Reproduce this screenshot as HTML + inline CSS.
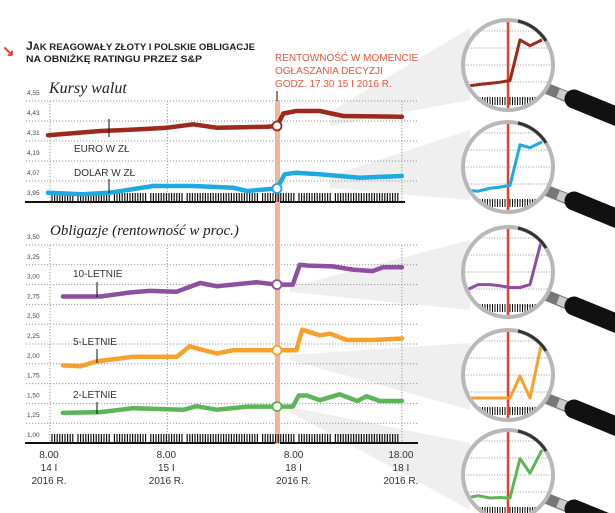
<!DOCTYPE html>
<html><head><meta charset="utf-8"><style>
body{margin:0;background:#fff}
svg{display:block;font-family:"Liberation Sans",sans-serif}
</style></head><body>
<svg id="chart" width="615" height="513" viewBox="0 0 615 513" xmlns="http://www.w3.org/2000/svg">
<g id="wedges" fill="#efefef"></g>
<g id="grid"></g>
<rect x="275" y="100" width="5" height="344" fill="#f4b39b"/>
<line x1="277" y1="91" x2="277" y2="101" stroke="#111" stroke-width="1"/>
<g id="rugs"></g>
<g id="series"></g>
<g id="mags"></g>

<text x="2" y="56" font-size="15" fill="#d9412b" font-weight="bold">↘</text>
<text x="26" y="50" font-size="12" font-weight="bold" fill="#222" textLength="229" lengthAdjust="spacingAndGlyphs">J<tspan font-size="9.5">AK REAGOWAŁY ZŁOTY I POLSKIE OBLIGACJE</tspan></text>
<text x="26" y="62" font-size="9.5" font-weight="bold" fill="#222" textLength="176" lengthAdjust="spacingAndGlyphs">NA OBNIŻKĘ RATINGU PRZEZ S&amp;P</text>
<g font-size="10" fill="#e25b3f">
<text x="275" y="61">RENTOWNOŚĆ W MOMENCIE</text>
<text x="275" y="74">OGŁASZANIA DECYZJI</text>
<text x="275" y="87">GODZ. 17.30 15 I 2016 R.</text>
</g>
<text x="49" y="93" font-size="16" font-style="italic" font-family="Liberation Serif,serif" fill="#222">Kursy walut</text>
<text x="50" y="235" font-size="15" font-style="italic" font-family="Liberation Serif,serif" fill="#222">Obligazje (rentowność w proc.)</text>
<g font-size="10" fill="#333">
<text x="74" y="152">EURO W ZŁ</text><line x1="109" y1="119" x2="109" y2="137" stroke="#111"/>
<text x="74" y="176">DOLAR W ZŁ</text><line x1="109" y1="179" x2="109" y2="193" stroke="#111"/>
<text x="73" y="277">10-LETNIE</text><line x1="97" y1="282" x2="97" y2="297" stroke="#111"/>
<text x="73" y="345">5-LETNIE</text><line x1="97" y1="349" x2="97" y2="363" stroke="#111"/>
<text x="73" y="398">2-LETNIE</text><line x1="97" y1="402" x2="97" y2="414" stroke="#111"/>
</g>
<g id="xlabels" font-size="10" fill="#333" text-anchor="middle"></g>
</svg>
<script>
const NS='http://www.w3.org/2000/svg';
const topTicks=['4,55','4,43','4,31','4,19','4,07','3,95'];
const topTickVals=[4.55,4.43,4.31,4.19,4.07,3.95];
const botTicks=['3,50','3,25','3,00','2,75','2,50','2,25','2,00','1,75','1,50','1,25','1,00'];
const botTickVals=[3.5,3.25,3.0,2.75,2.5,2.25,2.0,1.75,1.5,1.25,1.0];
const xLabelT=[0,1,2,3];
const xLabels=[['8.00','14 I','2016 R.'],['8.00','15 I','2016 R.'],['8.00','18 I','2016 R.'],['18.00','18 I','2016 R.']];
const eventT=1.935;
const euroT=[-0.017,0.43,0.77,1.0,1.22,1.42,1.85,1.935,1.99,2.1,2.3,2.5,3.0];
const euroV=[4.345,4.37,4.38,4.39,4.41,4.39,4.395,4.40,4.475,4.49,4.49,4.46,4.455];
const usdT=[-0.017,0.28,0.51,0.88,1.22,1.56,1.68,1.935,2.0,2.1,2.3,2.64,3.0];
const usdV=[4.0,3.99,4.0,4.04,4.04,4.03,4.01,4.025,4.11,4.12,4.11,4.09,4.10];
const y10T=[0.11,0.43,0.68,0.85,1.08,1.28,1.42,1.76,1.935,2.07,2.13,2.2,2.41,2.58,2.75,2.84,3.0];
const y10V=[2.85,2.85,2.90,2.92,2.91,3.02,2.98,3.03,3.0,3.0,3.25,3.24,3.23,3.19,3.17,3.22,3.22];
const y5T=[0.11,0.26,0.40,0.71,1.08,1.19,1.42,1.56,1.935,2.1,2.15,2.30,2.39,2.53,2.75,3.0];
const y5V=[1.98,1.97,2.03,2.09,2.09,2.22,2.13,2.17,2.17,2.17,2.43,2.36,2.38,2.30,2.30,2.32];
const y2T=[0.11,0.43,0.71,1.14,1.25,1.42,1.68,1.935,2.07,2.12,2.19,2.30,2.47,2.62,2.70,2.81,3.0];
const y2V=[1.38,1.39,1.44,1.42,1.465,1.42,1.46,1.46,1.46,1.60,1.60,1.54,1.615,1.53,1.59,1.53,1.53];
const miniEuro=[0.15,0.18,0.2,0.22,0.25,0.95,0.85,0.95];
const miniUsd=[0.12,0.1,0.15,0.17,0.2,0.9,0.85,0.95];
const mini10=[0.2,0.3,0.3,0.28,0.25,0.25,0.3,1.1];
const mini5=[0.12,0.12,0.12,0.12,0.12,0.5,0.12,1.1];
const mini2=[0.12,0.16,0.12,0.13,0.12,0.8,0.55,0.95];

const x=t=>50+t*117.3;
const yTop=v=>201-(v-3.95)/0.12*20;
const yBot=v=>443-(v-1)*79.2;
function el(tag,attrs,parent){const e=document.createElementNS(NS,tag);for(const k in attrs)e.setAttribute(k,attrs[k]);parent.appendChild(e);return e;}
const grid=document.getElementById('grid');
topTickVals.forEach((v,i)=>{
  if(i<topTickVals.length-1){const l=el('line',{x1:26,x2:417,y1:yTop(v),y2:yTop(v),stroke:'#999','stroke-dasharray':'1.2 1.8'},grid);
  
  }
  const t=el('text',{x:27,y:yTop(v)-6,'font-size':6.5,fill:'#444'},grid);t.textContent=topTicks[i];
  
  
});
botTickVals.forEach((v,i)=>{
  if(i<botTickVals.length-1){const l=el('line',{x1:26,x2:418,y1:yBot(v),y2:yBot(v),stroke:'#999','stroke-dasharray':'1.2 1.8'},grid);
  
  }
  const t=el('text',{x:27,y:yBot(v)-6,'font-size':6.5,fill:'#444'},grid);t.textContent=botTicks[i];
  
  
});
[0,1,3].forEach(t=>{
  const a=el('line',{x1:x(t),x2:x(t),y1:101,y2:201,stroke:'#999','stroke-dasharray':'1.2 1.8'},grid);
  
  
  const b=el('line',{x1:x(t),x2:x(t),y1:245,y2:443,stroke:'#999','stroke-dasharray':'1.2 1.8'},grid);
  
  
});
const ax1=el('line',{x1:25,x2:405,y1:202,y2:202,stroke:'#111','stroke-width':2},grid);


const ax2=el('line',{x1:25,x2:418,y1:443,y2:443,stroke:'#111','stroke-width':2},grid);


const rugs=document.getElementById('rugs');
[202,443].forEach(base=>{
  let d='';
  for(let px=52;px<=400;px+=2.6){ if(Math.round(px)%37<2) continue; d+=`M${px.toFixed(1)} ${base-9}V${base}`;}
  const p=el('path',{d:d,stroke:'#111','stroke-width':1.2},rugs);
  
  
});
const xl=document.getElementById('xlabels');
xLabelT.forEach((t,i)=>{xLabels[i].forEach((s,j)=>{const e=el('text',{x:x(t)-1+(i==2?10:0),y:458+j*13},xl);e.textContent=s;
 
 });});
const wd=document.getElementById('wedges');
[['330,112 470,28 470,100 330,126','euro-wedge'],['330,176 470,130 470,200 330,188','usd-wedge'],
 ['290,287 470,240 470,310 290,292','ten-year-wedge'],['290,355 470,343 470,410 290,360','five-year-wedge'],
 ['290,407 470,443 470,510 290,412','two-year-wedge']].forEach(w=>{
  const p=el('polygon',{points:w[0]},wd);
  
  
});
const sg=document.getElementById('series');
function series(T,V,ys,color,name){
  const d=T.map((t,i)=>(i?'L':'M')+x(t).toFixed(1)+' '+ys(V[i]).toFixed(1)).join('');
  const p=el('path',{d:d,fill:'none',stroke:color,'stroke-width':4.5,'stroke-linejoin':'round','stroke-linecap':'round'},sg);
  
  
  const k=T.indexOf(eventT);
  const c=el('circle',{cx:x(eventT),cy:ys(V[k]),r:4.5,fill:'#fff',stroke:color,'stroke-width':1.8},sg);
  
  
}
series(euroT,euroV,yTop,'#9b2a1c','euro');
series(usdT,usdV,yTop,'#1ea9e1','usd');
series(y10T,y10V,yBot,'#8e4fa0','ten-year');
series(y5T,y5V,yBot,'#f7a12c','five-year');
series(y2T,y2V,yBot,'#5db55a','two-year');
const mg=document.getElementById('mags');
const mags=[[65,miniEuro,'#9b2a1c','euro'],[167,miniUsd,'#1ea9e1','usd'],[272,mini10,'#8e4fa0','ten-year'],[375,mini5,'#f7a12c','five-year'],[475,mini2,'#5db55a','two-year']];
const miniX=[466,478,490,500,510,520,530,542];
mags.forEach((m,i)=>{
  const cy=m[0],cx=508,r=45;
  const g=el('g',{},mg);
  
  
  el('line',{x1:cx+35,y1:cy+22,x2:cx+62,y2:cy+33,stroke:'#777','stroke-width':11},g);
  el('line',{x1:cx+50,y1:cy+28,x2:cx+60,y2:cy+32,stroke:'#ccc','stroke-width':9},g);
  el('line',{x1:cx+66,y1:cy+34,x2:cx+110,y2:cy+52,stroke:'#111','stroke-width':19,'stroke-linecap':'round'},g);
  const cp=el('clipPath',{id:'cp'+i},g);el('circle',{cx:cx,cy:cy,r:r-2},cp);
  el('circle',{cx:cx,cy:cy,r:r,fill:'#fff'},g);
  const inner=el('g',{'clip-path':'url(#cp'+i+')'},g);
  for(let k=-2;k<=2;k++) el('line',{x1:cx-r,x2:cx+r,y1:cy+k*17,y2:cy+k*17,stroke:'#999','stroke-dasharray':'1 1.6'},inner);
  let d='';for(let px=cx-28;px<cx+30;px+=2.5)d+=`M${px} ${cy+32}V${cy+40}`;
  el('path',{d:d,stroke:'#111','stroke-width':1},inner);
  el('line',{x1:cx,x2:cx,y1:cy-r,y2:cy+r,stroke:'#e0442c','stroke-width':2.5},inner);
  const pd=m[1].map((v,k)=>(k?'L':'M')+miniX[k]+' '+(cy+30-v*58).toFixed(1)).join('');
  el('path',{d:pd,fill:'none',stroke:m[2],'stroke-width':3,'stroke-linejoin':'round'},inner);
  el('circle',{cx:cx,cy:cy,r:r,fill:'none',stroke:'#b8b8b8','stroke-width':4},g);
  el('path',{d:`M${cx+10} ${cy-r+1}A${r-1} ${r-1} 0 0 1 ${cx+38} ${cy-24}`,fill:'none',stroke:'#333','stroke-width':3},g);
});
</script>
</body></html>
